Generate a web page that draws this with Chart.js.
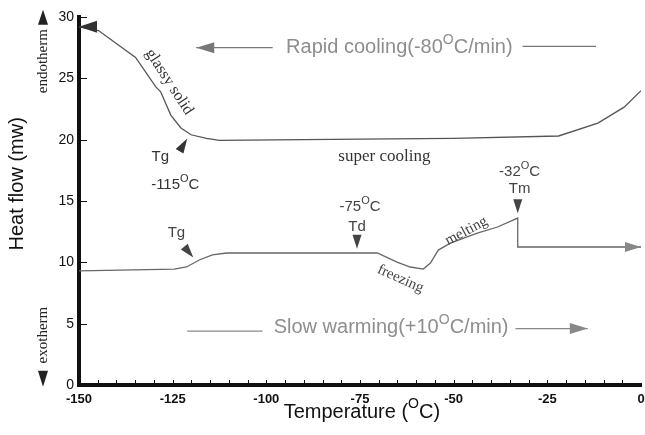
<!DOCTYPE html>
<html>
<head>
<meta charset="utf-8">
<script src="https://cdn.jsdelivr.net/npm/chart.js@4/dist/chart.umd.min.js"></script>
<style>
  html, body { margin: 0; padding: 0; background: #fff; }
  #wrap { width: 645px; height: 435px; }
</style>
</head>
<body>
<div id="wrap"><canvas id="myChart"></canvas></div>
<script>
// rapid cooling run (upper curve)
const coolTemp = [-150, -144.8, -139.4, -134.9, -129.5, -128.2, -125.5, -122.8, -120.1, -116, -112.5, -75, -50, -22, -11.5, -4.5, 0]
const coolFlow = [29.2, 28.9, 27.7, 26.7, 24.3, 23.9, 22.0, 20.95, 20.4, 20.1, 19.95, 20.05, 20.1, 20.3, 21.35, 22.65, 24.0]
// slow warming run (lower curve)
const warmTemp = [-150, -124.6, -121.3, -117.9, -114.4, -110.6, -83, -70.4, -65.1, -61.6, -58.1, -56.2, -54.1, -50.9, -43.7, -38.3, -32.9, -32.9, -4, 0]
const warmFlow = [9.3, 9.45, 9.62, 10.19, 10.6, 10.76, 10.76, 10.76, 10.02, 9.62, 9.45, 9.94, 11.0, 11.57, 12.39, 12.88, 13.61, 11.25, 11.25, 11.25]
const xTicks = [-150, -125, -100, -75, -50, -25, 0]
const yTicks = [0, 5, 10, 15, 20, 25, 30]

const SANS = "'Liberation Sans', Arial, sans-serif"
const SERIF = "'Liberation Serif', 'DejaVu Serif', serif"

// text notes on the plot, placed in data units
const notes = [
  { text: 'Rapid cooling(-80°C/min)', x: -64.5, y: 27.5, size: 20, font: SANS, color: '#8e8e8e' },
  { text: 'Slow warming(+10°C/min)', x: -66.7, y: 4.7, size: 20, font: SANS, color: '#8e8e8e' },
  { text: 'glassy solid', x: -125.9, y: 24.7, size: 16, font: SERIF, color: '#333', rot: 57 },
  { text: 'super cooling', x: -68.5, y: 18.6, size: 17, font: SERIF, color: '#333' },
  { text: 'freezing', x: -64.2, y: 8.65, size: 15, font: SERIF, color: '#444', rot: 24 },
  { text: 'melting', x: -46.6, y: 12.55, size: 15, font: SERIF, color: '#444', rot: -28 },
  { text: 'Tg', x: -128.3, y: 18.6, size: 15, font: SANS, color: '#333' },
  { text: '-115°C', x: -124.3, y: 16.3, size: 15, font: SANS, color: '#333' },
  { text: 'Tg', x: -124, y: 12.4, size: 15, font: SANS, color: '#444' },
  { text: '-75°C', x: -75, y: 14.5, size: 15, font: SANS, color: '#444' },
  { text: 'Td', x: -75.8, y: 12.9, size: 15, font: SANS, color: '#444' },
  { text: '-32°C', x: -32.4, y: 17.36, size: 15, font: SANS, color: '#444' },
  { text: 'Tm', x: -32.4, y: 15.97, size: 15, font: SANS, color: '#444' }
]
// small arrow heads: tip in data units, direction in degrees
const pointers = [
  { x: -121.1, y: 20.1, ang: -59, len: 15, color: '#333' },
  { x: -119.5, y: 10.4, ang: 50, len: 14, color: '#444' },
  { x: -75.8, y: 11.1, ang: 90, len: 14, color: '#444' },
  { x: -32.9, y: 14.0, ang: 90, len: 14, color: '#444' }
]
// direction lines with arrows
const guides = [
  { x1: -98.3, x2: -118.7, y: 27.5, head: true, color: '#777' },
  { x1: -31.6, x2: -12.0, y: 27.6, head: false, color: '#777' },
  { x1: -121.1, x2: -101.0, y: 4.4, head: false, color: '#888' },
  { x1: -33.5, x2: -14.2, y: 4.6, head: true, color: '#888' }
]

function supText(ctx, str, x, y, size, family, color) {
  // a '°' marks a small raised O
  const parts = str.split('°')
  const small = Math.round(size * 0.72)
  let w = 0
  parts.forEach((p, i) => {
    ctx.font = size + 'px ' + family
    w += ctx.measureText(p).width
    if (i < parts.length - 1) { ctx.font = small + 'px ' + family; w += ctx.measureText('O').width }
  })
  let cx = x - w / 2
  ctx.fillStyle = color
  ctx.textAlign = 'left'
  ctx.textBaseline = 'middle'
  parts.forEach((p, i) => {
    ctx.font = size + 'px ' + family
    ctx.fillText(p, cx, y)
    cx += ctx.measureText(p).width
    if (i < parts.length - 1) {
      ctx.font = small + 'px ' + family
      ctx.fillText('O', cx, y - size * 0.38)
      cx += ctx.measureText('O').width
    }
  })
}

function arrowHead(ctx, tx, ty, angDeg, len, half, color) {
  const a = angDeg * Math.PI / 180
  const bx = tx - Math.cos(a) * len, by = ty - Math.sin(a) * len
  const nx = -Math.sin(a) * half, ny = Math.cos(a) * half
  ctx.fillStyle = color
  ctx.beginPath()
  ctx.moveTo(tx, ty)
  ctx.lineTo(bx + nx, by + ny)
  ctx.lineTo(bx - nx, by - ny)
  ctx.closePath()
  ctx.fill()
}

const decor = {
  id: 'decor',
  afterDraw(chart) {
    const ctx = chart.ctx
    const xs = chart.scales.x, ys = chart.scales.y
    const area = chart.chartArea
    ctx.save()

    // tick marks inside the frame
    ctx.strokeStyle = '#111'
    ctx.lineWidth = 1
    yTicks.forEach(v => {
      const py = Math.round(ys.getPixelForValue(v)) + 0.5
      ctx.beginPath(); ctx.moveTo(area.left, py); ctx.lineTo(area.left + 8, py); ctx.stroke()
    })
    for (let t = -145; t < 0; t += 5) {
      const px = Math.round(xs.getPixelForValue(t)) + 0.5
      ctx.beginPath(); ctx.moveTo(px, area.bottom); ctx.lineTo(px, area.bottom - 5); ctx.stroke()
    }

    // curve arrow heads
    arrowHead(ctx, xs.getPixelForValue(coolTemp[0]), ys.getPixelForValue(coolFlow[0]), 180, 18, 6, '#333')
    const n = warmTemp.length - 1
    arrowHead(ctx, xs.getPixelForValue(warmTemp[n]), ys.getPixelForValue(warmFlow[n]), 0, 16, 5, '#888')

    pointers.forEach(p => arrowHead(ctx, xs.getPixelForValue(p.x), ys.getPixelForValue(p.y), p.ang, p.len, 4.5, p.color))

    guides.forEach(g => {
      const px1 = xs.getPixelForValue(g.x1), px2 = xs.getPixelForValue(g.x2), py = ys.getPixelForValue(g.y)
      ctx.strokeStyle = g.color
      ctx.lineWidth = 1.2
      ctx.beginPath(); ctx.moveTo(px1, py); ctx.lineTo(px2, py); ctx.stroke()
      if (g.head) arrowHead(ctx, px2, py, px2 < px1 ? 180 : 0, 18, 5.5, g.color)
    })

    notes.forEach(nt => {
      const px = xs.getPixelForValue(nt.x), py = ys.getPixelForValue(nt.y)
      ctx.save()
      ctx.translate(px, py)
      if (nt.rot) ctx.rotate(nt.rot * Math.PI / 180)
      supText(ctx, nt.text, 0, 0, nt.size, nt.font, nt.color)
      ctx.restore()
    })

    // endotherm / exotherm side labels
    const sx = area.left - 36
    ctx.save()
    ctx.translate(sx, ys.getPixelForValue(26.4)); ctx.rotate(-Math.PI / 2)
    supText(ctx, 'endotherm', 0, 0, 15, SERIF, '#222')
    ctx.restore()
    arrowHead(ctx, sx, ys.getPixelForValue(30.6), -90, 15, 5, '#222')
    ctx.save()
    ctx.translate(sx, ys.getPixelForValue(4.07)); ctx.rotate(-Math.PI / 2)
    supText(ctx, 'exotherm', 0, 0, 15, SERIF, '#222')
    ctx.restore()
    arrowHead(ctx, sx, ys.getPixelForValue(-0.15), 90, 16, 5, '#222')

    // axis titles
    ctx.save()
    ctx.translate(17, ys.getPixelForValue(16.4)); ctx.rotate(-Math.PI / 2)
    supText(ctx, 'Heat flow (mw)', 0, 0, 20, SANS, '#111')
    ctx.restore()
    supText(ctx, 'Temperature (°C)', xs.getPixelForValue(-74.5), area.bottom + 27, 20, SANS, '#111')

    ctx.restore()
  }
}

const ctx = document.getElementById('myChart').getContext('2d')
const myChart = new Chart(ctx, {
  type: 'scatter',
  data: {
    datasets: [{
      label: 'Rapid cooling',
      data: coolTemp.map((t, i) => ({ x: t, y: coolFlow[i] })),
      showLine: true,
      borderColor: '#555',
      borderWidth: 1.3,
      pointRadius: 0,
      tension: 0
    }, {
      label: 'Slow warming',
      data: warmTemp.map((t, i) => ({ x: t, y: warmFlow[i] })),
      showLine: true,
      borderColor: '#666',
      borderWidth: 1.3,
      pointRadius: 0,
      tension: 0
    }]
  },
  options: {
    responsive: true,
    maintainAspectRatio: false,
    animation: false,
    layout: { padding: { top: 17, right: 0, left: 0, bottom: 0 } },
    plugins: {
      legend: { display: false },
      tooltip: { enabled: false }
    },
    scales: {
      x: {
        type: 'linear',
        min: -150,
        max: 0,
        afterBuildTicks: axis => { axis.ticks = xTicks.map(v => ({ value: v })) },
        afterFit: axis => { axis.height = 50; axis.paddingRight = 4; axis.paddingLeft = 0 },
        grid: { display: false, drawTicks: false },
        border: { display: true, color: '#111', width: 4 },
        ticks: { padding: 7, color: '#111', font: { family: SANS, size: 13, weight: 'bold' } }
      },
      y: {
        min: 0,
        max: 30,
        afterBuildTicks: axis => { axis.ticks = yTicks.map(v => ({ value: v })) },
        afterFit: axis => { axis.width = 79 },
        grid: { display: false, drawTicks: false },
        border: { display: true, color: '#111', width: 4 },
        ticks: { padding: 5, color: '#111', font: { family: SANS, size: 14 } }
      }
    }
  },
  plugins: [decor]
})
</script>
</body>
</html>
